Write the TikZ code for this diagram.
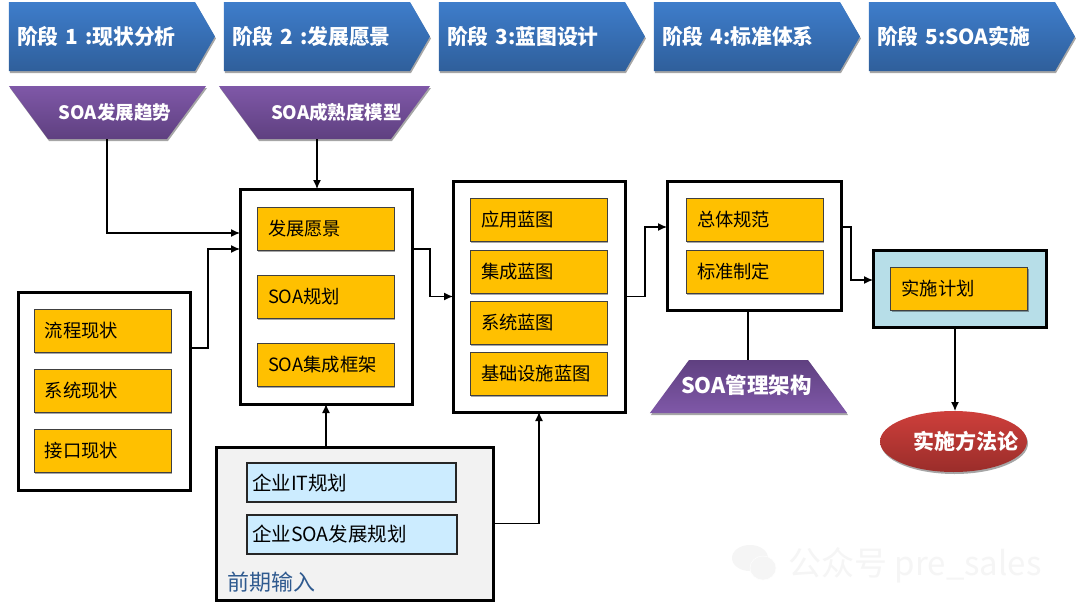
\documentclass[tikz,border=0pt]{standalone}
\usepackage{fontspec}
\usepackage{tikz}
\usepackage{xcolor}
\usetikzlibrary{shapes.geometric,shapes.symbols,shadows,arrows.meta}
\setmainfont{Noto Sans CJK SC}
\definecolor{stagetop}{HTML}{3E7DCB}
\definecolor{stagebot}{HTML}{2F5F9B}
\definecolor{purplelight}{HTML}{7F58A8}
\definecolor{purpledark}{HTML}{5F4080}
\definecolor{redtop}{HTML}{CE3F3B}
\definecolor{redbot}{HTML}{9A2D2A}
\definecolor{taskorange}{HTML}{FFC000}
\definecolor{inputblue}{HTML}{CCECFF}
\definecolor{planblue}{HTML}{B7DEE8}
\definecolor{inputtext}{HTML}{2F5A8F}
\tikzset{
softshadow/.style={drop shadow={shadow xshift=1pt,shadow yshift=-2pt,opacity=.35,fill=black}},
stagearrow/.style={signal,signal to=east,signal from=nowhere,signal pointer angle=120,
  minimum width=206pt,minimum height=69pt,inner xsep=8pt,inner ysep=0pt,outer sep=0pt,
  top color=stagetop,bottom color=stagebot,softshadow,text=white,
  font=\fontsize{20.8pt}{24pt}\selectfont\bfseries,text width=170pt,align=left},
toolup/.style={trapezium,inner sep=0pt,outer sep=0pt,softshadow,
  trapezium angle=53.6,top color=purpledark,bottom color=purplelight,text height=33.5pt,text depth=19.5pt,
  text=white,font=\fontsize{21.5pt}{24pt}\selectfont\bfseries},
tooldown/.style={toolup,shape border rotate=180,top color=purplelight,bottom color=purpledark,
  font=\fontsize{18.5pt}{22pt}\selectfont\bfseries},
groupbox/.style={draw=black,line width=3pt,fill=white,inner sep=0pt,outer sep=0pt},
taskbox/.style={draw=black!75,line width=.8pt,fill=taskorange,
  minimum width=137pt,minimum height=43pt,text width=115pt,inner xsep=11pt,inner ysep=0pt,
  outer sep=0pt,align=left,softshadow,font=\fontsize{18.3pt}{22pt}\selectfont},
inputbox/.style={draw=black!85,line width=1.2pt,fill=inputblue,minimum height=39pt,
  inner xsep=5pt,inner ysep=0pt,outer sep=0pt,align=left,font=\fontsize{19.5pt}{22pt}\selectfont},
flow/.style={line width=1.2pt,-{Latex[length=9pt,width=8pt]}},
}
\begin{document}
\begin{tikzpicture}[x=1pt,y=-1pt]
\useasboundingbox (0,0) rectangle (1080,608);
\fill[white] (0,0) rectangle (1080,608);
% stages
\node[stagearrow] (stageA) at (102,36.5) {阶段 1 :现状分析};
\node[stagearrow] (stageB) at (317,36.5) {阶段 2 :发展愿景};
\node[stagearrow] (stageC) at (532,36.5) {阶段 3:蓝图设计};
\node[stagearrow] (stageD) at (747,36.5) {阶段 4:标准体系};
\node[stagearrow] (stageE) at (962,36.5) {阶段 5:SOA实施};
% tools
\node[tooldown] (trend) at (107.5,112.5) {\makebox[119pt]{\hspace*{15pt}SOA发展趋势}};
\node[tooldown] (maturity) at (324.5,112.5) {\makebox[133pt]{\hspace*{24pt}SOA成熟度模型}};
\node[toolup] (govern) at (748.5,386.5) {\makebox[119pt]{SOA管理架构\hspace*{4pt}}};
\node[ellipse,minimum width=147pt,minimum height=61pt,inner sep=0pt,outer sep=0pt,
  top color=redtop,bottom color=redbot,softshadow,text=white,
  font=\fontsize{21pt}{24pt}\selectfont\bfseries] (method) at (953.5,441.5) {\makebox[0pt]{\hspace*{24pt}实施方法论}};
% stage 1
\node[groupbox,minimum width=172pt,minimum height=198pt] (asis) at (104,391) {};
\node[taskbox] (asisA) at (102.5,330.5) {流程现状};
\node[taskbox] (asisB) at (102.5,390.5) {系统现状};
\node[taskbox] (asisC) at (102.5,450.5) {接口现状};
% stage 2
\node[groupbox,minimum width=172pt,minimum height=215pt] (vision) at (326,296.5) {};
\node[taskbox] (visionA) at (325.5,228.5) {发展愿景};
\node[taskbox] (visionB) at (325.5,296.5) {SOA规划};
\node[taskbox] (visionC) at (325.5,364.5) {SOA集成框架};
% stage 3
\node[groupbox,minimum width=172pt,minimum height=231pt] (blue) at (539,296.5) {};
\node[taskbox] (blueA) at (538.5,219.5) {应用蓝图};
\node[taskbox] (blueB) at (538.5,271.5) {集成蓝图};
\node[taskbox] (blueC) at (538.5,322.5) {系统蓝图};
\node[taskbox] (blueD) at (538.5,373.5) {基础设施蓝图};
% stage 4
\node[groupbox,minimum width=174pt,minimum height=129pt] (norm) at (754,245.5) {};
\node[taskbox] (normA) at (754.5,219.5) {总体规范};
\node[taskbox] (normB) at (754.5,271.5) {标准制定};
% stage 5
\node[groupbox,fill=planblue,minimum width=173pt,minimum height=77pt] (plan) at (959.5,288.5) {};
\node[taskbox] (planA) at (959,288.5) {实施计划};
% inputs
\node[groupbox,fill=black!5,minimum width=277pt,minimum height=153pt] (input) at (354.5,523.5) {};
\node[inputbox,minimum width=209pt,text width=199pt] (inputA) at (351.5,482.5) {企业IT规划};
\node[inputbox,minimum width=210pt,text width=200pt] (inputB) at (352,534.5) {企业SOA发展规划};
\node[text=inputtext,inner sep=0pt,font=\fontsize{22pt}{26pt}\selectfont] (inputL) at (271.5,582) {前期输入};
% flows
\draw[flow] ([xshift=-.5pt]trend.south) |- ([yshift=63.5pt]vision.west);
\draw[flow] ([xshift=-7.5pt]maturity.south) -- ([xshift=-9pt]vision.north);
\draw[flow] ([yshift=43pt]asis.east) -- ++(18,0) |- ([yshift=47.5pt]vision.west);
\draw[flow] ([yshift=47.5pt]vision.east) -- ++(18,0) |- (blue.west);
\draw[flow] (blue.east) -- ++(20,0) |- ([yshift=18.5pt]norm.west);
\draw[flow] ([yshift=18.5pt]norm.east) -- ++(10,0) |- ([yshift=8.5pt]plan.west);
\draw[line width=1.2pt] ([xshift=-6pt]norm.south) -- ([xshift=-.5pt]govern.north);
\draw[flow] ([xshift=-4.5pt]plan.south) -- ([xshift=1.5pt]method.north);
\draw[flow] ([xshift=-28.5pt]input.north) -- (vision.south);
\draw[flow] (input.east) -- ++(46,0) -- (blue.south);
% watermark
\fill[black!4] (750,558) ellipse (18pt and 13pt);
\fill[black!4,draw=white] (763,568) ellipse (13pt and 12pt);
\node[text=black!4,inner sep=0pt,font=\fontsize{33pt}{36pt}\selectfont] (mark) at (915,565) {公众号 pre\_sales};
\end{tikzpicture}
\end{document}
